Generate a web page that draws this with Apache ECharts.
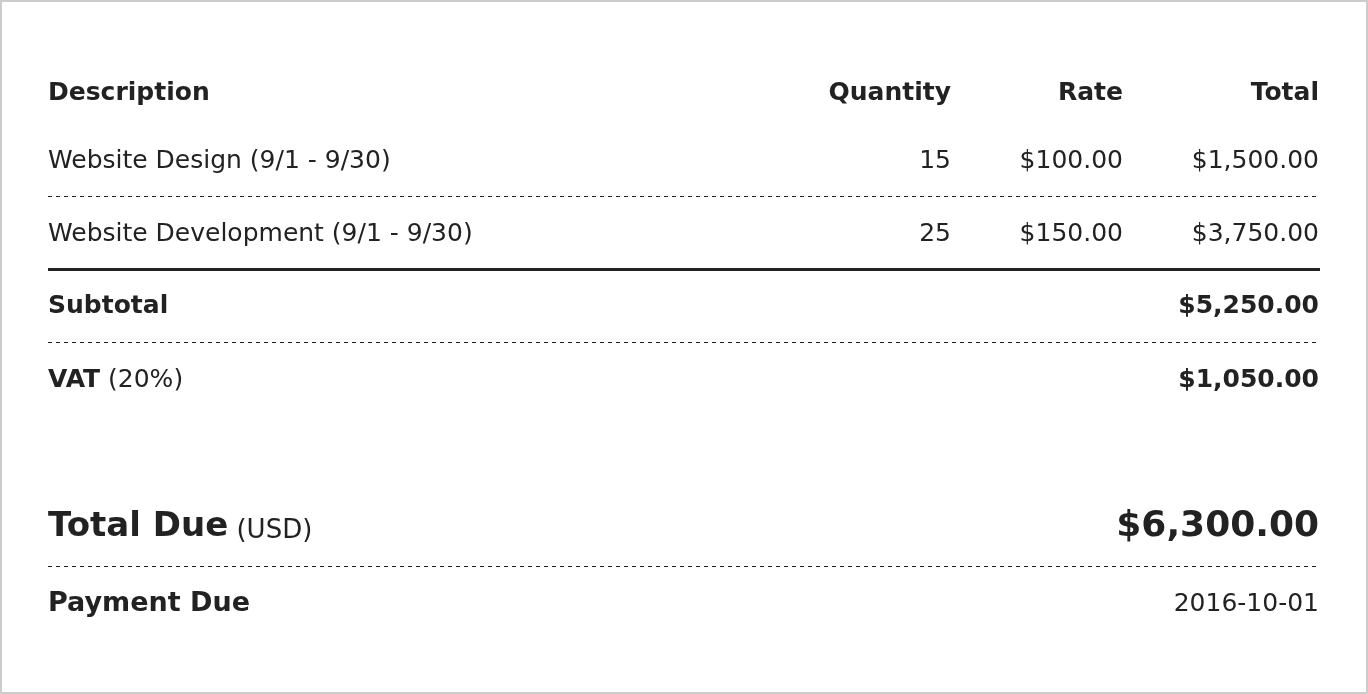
<!DOCTYPE html>
<html><head><meta charset="utf-8">
<script src="https://cdn.jsdelivr.net/npm/echarts@6/dist/echarts.min.js"></script>
<style>html,body{margin:0;padding:0;background:#fff}#c{width:1368px;height:694px}</style>
</head><body><div id="c"></div>
<script>
const headers = ["Description", "Quantity", "Rate", "Total"];
const descriptions = ["Website Design (9/1 - 9/30)", "Website Development (9/1 - 9/30)"];
const quantities = [15, 25];
const rates = [100, 150];
const vatRate = 0.20;
const currency = "USD";
const paymentDue = "2016-10-01";

const lineTotals = quantities.map((q, i) => q * rates[i]);
const subtotal = lineTotals.reduce((a, b) => a + b, 0);
const vat = subtotal * vatRate;
const totalDue = subtotal + vat;
const money = v => "$" + v.toLocaleString("en-US", {minimumFractionDigits: 2, maximumFractionDigits: 2});

const F = '"DejaVu Sans", sans-serif';
const C = "#222";
const L = 48, XQ = 951, XR = 1123, XT = 1319;
const g = [];
function txt(x, y, t, o) {
  o = o || {};
  g.push({type: "text", x: x, y: y, style: {text: t, fill: C, font: (o.w || "normal") + " " + (o.s || 24) + "px " + F,
    align: o.a || "left", verticalAlign: "middle"}});
}
function rich(x, y, parts, a) {
  g.push({type: "text", x: x, y: y, style: {text: parts.map((p, i) => "{p" + i + "|" + p[0] + "}").join(""),
    align: a || "left", verticalAlign: "middle",
    rich: Object.fromEntries(parts.map((p, i) => ["p" + i, {fill: C, fontFamily: F, fontSize: p[1], fontWeight: p[2], verticalAlign: "bottom"}]))}});
}
function hline(y, dashed, w) {
  g.push({type: "line", shape: {x1: L, y1: y, x2: XT + 1, y2: y},
    style: {stroke: C, lineWidth: w || 1, lineDash: dashed ? [4, 4] : null}});
}
g.push({type: "rect", shape: {x: 1, y: 1, width: 1366, height: 692}, style: {fill: "none", stroke: "#ccc", lineWidth: 2}});
txt(L, 93, headers[0], {w: "bold", s: 25});
txt(XQ, 93, headers[1], {w: "bold", a: "right", s: 25});
txt(XR, 93, headers[2], {w: "bold", a: "right", s: 25});
txt(XT, 93, headers[3], {w: "bold", a: "right", s: 25});
const rowY = [161, 234];
descriptions.forEach((d, i) => {
  txt(L, rowY[i], d, {s: 25});
  txt(XQ, rowY[i], String(quantities[i]), {a: "right", s: 25});
  txt(XR, rowY[i], money(rates[i]), {a: "right", s: 25});
  txt(XT, rowY[i], money(lineTotals[i]), {a: "right", s: 25});
});
hline(196.5, true);
hline(269.5, false, 3);
txt(L, 306, "Subtotal", {w: "bold", s: 25});
txt(XT, 306, money(subtotal), {w: "bold", a: "right", s: 25});
hline(342.5, true);
rich(L, 380, [["VAT", 25, "bold"], [" (" + Math.round(vatRate * 100) + "%)", 25, "normal"]]);
txt(XT, 380, money(vat), {w: "bold", a: "right", s: 25});
rich(L, 527, [["Total Due", 34, "bold"], [" (" + currency + ")", 26, "normal"]]);
txt(XT, 527, money(totalDue), {w: "bold", a: "right", s: 36});
hline(566.5, true);
txt(L, 604, "Payment Due", {w: "bold", s: 27});
txt(XT, 604, paymentDue, {a: "right", s: 25});
const chart = echarts.init(document.getElementById("c"));
chart.setOption({animation: false, graphic: {elements: g}});
</script></body></html>
